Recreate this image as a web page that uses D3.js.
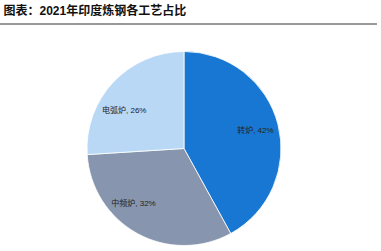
<!DOCTYPE html>
<html>
<head>
<meta charset="utf-8">
<script src="https://cdn.jsdelivr.net/npm/d3@7/dist/d3.min.js"></script>
<style>
  body { margin: 0; background: #fff; }
  text { font-family: "Liberation Sans", "Noto Sans CJK SC", sans-serif; }
</style>
</head>
<body>
<svg id="chart" width="381" height="251"></svg>
<script>
// chart values
const categories = ["转炉", "中频炉", "电弧炉"];
const shares = [42, 32, 26];
const colors = ["#1877d3", "#8796ae", "#b9d8f6"];
// nudges so labels sit where the original placed them (best-fit style)
const labelNudge = [[0, 0], [-15, -10], [-6, 12]];

const svg = d3.select("#chart");

// title + rule
svg.append("text")
    .attr("x", 3.5)
    .attr("y", 15)
    .attr("font-size", 12)
    .attr("font-weight", "bold")
    .attr("fill", "#111")
    .text("图表：2021年印度炼钢各工艺占比");

svg.append("line")
    .attr("x1", 0).attr("x2", 377)
    .attr("y1", 24).attr("y2", 24)
    .attr("stroke", "#333")
    .attr("stroke-width", 1);

const cx = 184, cy = 148.5, r = 97;

const pie = d3.pie().sort(null).value(d => d);
const arcs = pie(shares);
const arc = d3.arc().innerRadius(0).outerRadius(r);
const labelArc = d3.arc().innerRadius(r * 0.76).outerRadius(r * 0.76);

const g = svg.append("g").attr("transform", `translate(${cx},${cy})`);

g.selectAll("path")
    .data(arcs)
    .enter()
    .append("path")
    .attr("d", arc)
    .attr("fill", (d, i) => colors[i])
    .attr("stroke", "#fff")
    .attr("stroke-width", 0.8);

g.selectAll("text.lbl")
    .data(arcs)
    .enter()
    .append("text")
    .attr("class", "lbl")
    .attr("transform", (d, i) => {
        let c = labelArc.centroid(d);
        return "translate(" + (c[0] + labelNudge[i][0]) + "," + (c[1] + labelNudge[i][1]) + ")";
    })
    .attr("text-anchor", "middle")
    .attr("dy", "0.35em")
    .attr("font-size", 8)
    .attr("fill", "#222")
    .text((d, i) => categories[i] + ", " + shares[i] + "%");
</script>
</body>
</html>
